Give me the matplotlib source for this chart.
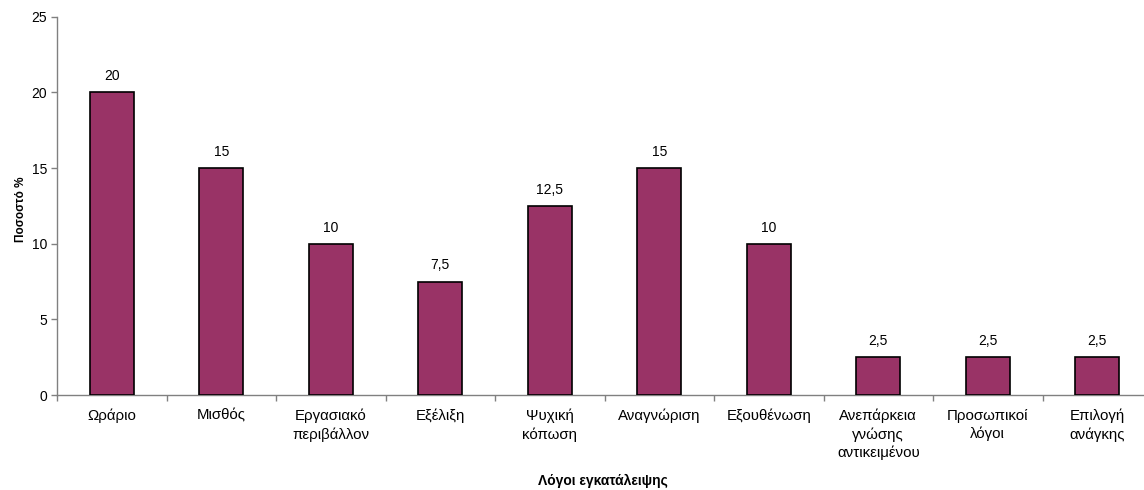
import matplotlib
matplotlib.use("Agg")
import matplotlib.pyplot as plt

plt.rcParams['font.family'] = ['Liberation Sans', 'DejaVu Sans']

categories = ["Ωράριο", "Μισθός", "Εργασιακό\nπεριβάλλον", "Εξέλιξη", "Ψυχική\nκόπωση",
              "Αναγνώριση", "Εξουθένωση", "Ανεπάρκεια\nγνώσης\nαντικειμένου",
              "Προσωπικοί\nλόγοι", "Επιλογή\nανάγκης"]
values = [20, 15, 10, 7.5, 12.5, 15, 10, 2.5, 2.5, 2.5]
value_labels = ["20", "15", "10", "7,5", "12,5", "15", "10", "2,5", "2,5", "2,5"]
y_ticks = [0, 5, 10, 15, 20, 25]

W, H = 1144, 490
fig = plt.figure(figsize=(W / 100, H / 100), dpi=100)
left, right = 57, 57 + 109.5 * len(categories)
bottom, top = 395, 16.7
ax = fig.add_axes([left / W, 1 - bottom / H, (right - left) / W, (bottom - top) / H])

x = list(range(len(categories)))
ax.bar(x, values, width=0.4, color="#993366", edgecolor="black", linewidth=1.2, zorder=3)
for xi, v, lab in zip(x, values, value_labels):
    ax.text(xi, v + 0.6, lab, ha="center", va="bottom", fontsize=10)

ax.set_xlim(-0.5, len(categories) - 0.5)
ax.set_ylim(0, 25)
ax.set_yticks(y_ticks)
ax.set_yticklabels([str(t) for t in y_ticks], fontsize=10)

ax.set_xticks([i + 0.5 for i in range(-1, len(categories))])
ax.set_xticklabels([])
ax.set_xticks(x, minor=True)
ax.set_xticklabels(categories, minor=True, fontsize=10.8, linespacing=1.32)
ax.tick_params(axis="x", which="minor", length=0, pad=10)
ax.tick_params(axis="x", which="major", length=4, color="#808080", width=1)
ax.tick_params(axis="y", length=4, color="#808080", width=1, pad=3)

for s in ["top", "right"]:
    ax.spines[s].set_visible(False)
for s in ["left", "bottom"]:
    ax.spines[s].set_color("#808080")
    ax.spines[s].set_linewidth(1)

fig.text(21 / W, 1 - 209 / H, "Ποσοστό %", rotation=90, ha="center", va="center",
         fontsize=8.5, fontweight="bold")
fig.text(603 / W, 1 - 481 / H, "Λόγοι εγκατάλειψης", ha="center", va="center",
         fontsize=10, fontweight="bold")

fig.savefig("out.png", dpi=100)
